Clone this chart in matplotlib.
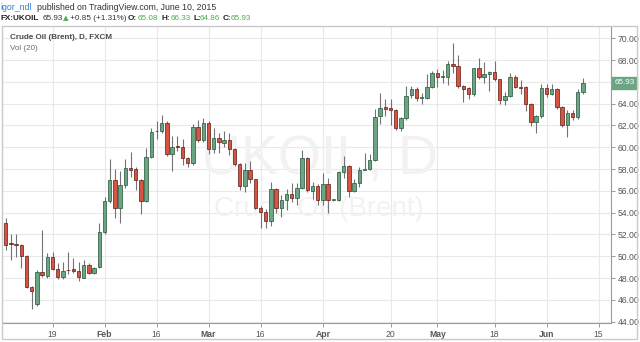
import numpy as np
import pandas as pd
import matplotlib
matplotlib.use("Agg")
import matplotlib.pyplot as plt
from matplotlib.patches import Rectangle
import matplotlib.transforms as mtransforms

plt.rcParams['font.family'] = ['Liberation Sans', 'DejaVu Sans']

# daily candles, FXCM UKOIL, Jan 6 .. Jun 10 2015
opens = [53.03, 51.20, 51.15, 51.04, 50.03, 47.16, 45.60, 48.60, 48.20, 49.90,
         48.86, 48.07, 48.74, 48.80, 48.68, 48.04, 49.17, 48.50, 48.99, 52.26,
         55.07, 56.97, 54.46, 56.51, 58.13, 57.98, 57.00, 55.10, 59.14, 61.45,
         61.52, 62.20, 59.36, 60.06, 60.00, 58.99, 58.53, 61.89, 60.67, 62.20,
         59.82, 60.83, 60.36, 60.67, 59.82, 58.47, 56.45, 57.92, 57.06, 54.43,
         54.09, 53.24, 56.15, 54.40, 55.16, 55.69, 55.32, 56.30, 59.00, 56.02,
         56.45, 55.16, 56.63, 55.16, 55.16, 57.71, 58.28, 56.02, 56.75, 57.95,
         57.98, 58.84, 62.87, 63.65, 63.63, 63.42, 61.74, 62.66, 64.77, 65.32,
         64.55, 64.55, 65.50, 66.79, 66.48, 66.48, 67.61, 67.49, 65.65, 65.41,
         64.86, 67.25, 66.48, 66.70, 66.94, 66.24, 64.34, 64.73, 66.48, 65.50,
         65.50, 63.97, 62.29, 62.87, 65.41, 64.89, 65.32, 63.67, 62.05, 63.12,
         62.75, 65.08]
highs = [53.50, 52.00, 52.00, 51.10, 50.10, 47.30, 48.70, 52.40, 50.30, 50.35,
         49.40, 49.50, 50.37, 49.80, 49.50, 49.66, 49.40, 49.00, 53.03, 55.40,
         58.90, 57.98, 57.83, 58.96, 59.60, 58.20, 57.10, 59.90, 61.74, 62.44,
         62.96, 62.40, 61.00, 61.04, 60.80, 59.10, 62.10, 62.50, 62.66, 62.40,
         61.74, 61.30, 61.50, 61.28, 59.90, 58.60, 58.60, 58.77, 57.10, 54.60,
         54.30, 56.84, 56.30, 55.60, 56.20, 56.75, 56.70, 59.75, 59.10, 56.80,
         56.60, 57.61, 57.20, 55.20, 57.80, 59.20, 58.40, 57.10, 58.20, 59.50,
         59.40, 63.49, 64.95, 64.40, 64.40, 63.50, 62.80, 65.58, 65.60, 65.50,
         65.00, 66.70, 67.00, 67.20, 67.10, 67.90, 69.60, 68.47, 65.70, 65.50,
         67.30, 68.16, 67.80, 67.00, 67.92, 66.30, 65.10, 66.85, 66.60, 66.20,
         65.60, 64.10, 63.00, 65.80, 65.80, 65.80, 65.40, 63.80, 63.40, 63.40,
         65.30, 66.33]
lows = [50.60, 49.70, 49.90, 48.90, 47.10, 45.20, 45.40, 48.10, 48.00, 48.70,
        47.90, 47.90, 48.40, 48.50, 47.70, 48.00, 48.40, 48.40, 48.90, 52.00,
        54.90, 53.50, 53.03, 56.30, 57.30, 56.08, 53.88, 55.00, 59.00, 60.73,
        61.30, 59.20, 57.83, 59.70, 58.40, 58.20, 58.40, 60.50, 60.50, 59.40,
        59.50, 59.50, 60.00, 59.30, 58.30, 56.10, 55.93, 56.70, 54.30, 52.62,
        52.62, 52.80, 53.94, 53.58, 54.20, 55.00, 54.70, 56.20, 55.90, 55.23,
        54.70, 54.70, 54.00, 55.10, 55.10, 57.20, 55.47, 55.90, 56.40, 57.90,
        57.90, 58.70, 62.10, 62.90, 62.05, 61.60, 61.50, 62.50, 64.50, 64.20,
        63.97, 64.40, 65.40, 65.56, 65.90, 65.70, 66.80, 65.40, 64.19, 64.40,
        64.70, 66.30, 65.90, 65.20, 66.10, 64.00, 63.90, 64.60, 65.40, 64.90,
        63.36, 61.98, 61.28, 62.70, 64.60, 64.80, 63.50, 61.90, 60.97, 62.50,
        62.60, 64.86]
closes = [51.04, 51.10, 51.05, 50.03, 47.16, 46.80, 48.60, 48.25, 49.90, 48.83,
          48.13, 48.68, 48.70, 48.65, 48.07, 49.17, 48.50, 48.93, 52.26, 55.07,
          56.97, 54.46, 56.51, 58.13, 57.92, 57.00, 55.10, 59.14, 61.43, 61.50,
          62.20, 59.36, 60.06, 60.04, 58.99, 58.53, 61.89, 60.67, 62.20, 59.82,
          60.83, 60.46, 60.67, 59.82, 58.47, 56.45, 57.92, 57.06, 54.43, 54.09,
          53.24, 56.15, 54.40, 55.16, 55.69, 55.32, 56.30, 58.99, 56.05, 56.45,
          55.16, 56.63, 55.16, 55.16, 57.71, 58.28, 56.02, 56.75, 57.92, 58.00,
          58.84, 62.80, 63.63, 63.55, 63.42, 61.74, 62.66, 64.74, 65.32, 64.50,
          64.58, 65.50, 66.79, 66.48, 66.50, 67.61, 67.49, 65.65, 65.35, 64.86,
          67.25, 66.48, 66.70, 66.94, 66.24, 64.34, 64.73, 66.48, 65.50, 65.48,
          63.97, 62.29, 62.87, 65.41, 64.89, 65.32, 63.67, 62.05, 63.12, 62.75,
          65.10, 65.93]

dates = pd.bdate_range("2015-01-06", "2015-06-19")
tick_dates = ["2015-01-19", "2015-02-02", "2015-02-16", "2015-03-02", "2015-03-16",
              "2015-04-01", "2015-04-20", "2015-05-01", "2015-05-18", "2015-06-01",
              "2015-06-15"]
y_ticks = np.arange(44, 71, 2)

UP, DOWN = "#6ba583", "#d75442"
UP_EDGE, DOWN_EDGE = "#225437", "#5b1a13"
WICK = "#737375"

fig = plt.figure(figsize=(6.4, 3.42), dpi=100)
ax = fig.add_axes([3 / 640, 1 - 323 / 342, 608 / 640, (323 - 26.7) / 342])

o = np.array(opens); h = np.array(highs); l = np.array(lows); c = np.array(closes)
x = np.arange(len(o))
up = c >= o
ax.vlines(x, l, h, color=WICK, lw=0.8, zorder=2)
bottoms = np.minimum(o, c)
heights = np.maximum(np.abs(c - o), 0.05)
ax.bar(x[up], heights[up], bottom=bottoms[up], width=0.66, color=UP,
       edgecolor=UP_EDGE, lw=0.5, zorder=3)
ax.bar(x[~up], heights[~up], bottom=bottoms[~up], width=0.66, color=DOWN,
       edgecolor=DOWN_EDGE, lw=0.5, zorder=3)

ax.set_xlim(-0.52, 116.4)
ax.set_ylim(43.88, 71.06)

# x ticks: day number, month name in bold on the 1st trading day
pos = [dates.get_loc(pd.Timestamp(d)) for d in tick_dates]
ax.set_xticks(pos)
labels = []
for d in tick_dates:
    ts = pd.Timestamp(d)
    labels.append(ts.strftime("%b") if ts.day <= 2 else str(ts.day))
ax.set_xticklabels(labels)
for lab, d in zip(ax.get_xticklabels(), tick_dates):
    if pd.Timestamp(d).day <= 2:
        lab.set_fontweight("bold")

# 66.00 sits under the last price tag
ax.yaxis.tick_right()
ax.set_yticks(y_ticks)
ax.set_yticklabels(["" if v == 66 else "%.2f" % v for v in y_ticks])
ax.tick_params(axis="both", labelsize=6.2, colors="#8a8a8a", labelcolor="#555555",
               length=3, width=0.6, pad=2)
ax.grid(True, color="#e9e9e9", lw=0.8, zorder=0)
ax.set_axisbelow(True)
for s in ["top", "left"]:
    ax.spines[s].set_visible(False)
for s in ["right", "bottom"]:
    ax.spines[s].set_color("#9a9a9a")
    ax.spines[s].set_linewidth(0.8)

# watermark
ax.text(0.52, 0.55, "UKOIL, D", transform=ax.transAxes, fontsize=40,
        color="#f2f2f2", ha="center", va="center", zorder=1)
ax.text(0.52, 0.385, "Crude Oil (Brent)", transform=ax.transAxes, fontsize=20,
        color="#f2f2f2", ha="center", va="center", zorder=1)

ax.text(0.011, 0.965, "Crude Oil (Brent), D, FXCM", transform=ax.transAxes,
        fontsize=5.8, fontweight="bold", color="#4a4a4a", va="center")
ax.text(0.011, 0.927, "Vol (20)", transform=ax.transAxes, fontsize=5.8,
        color="#6a6a6a", va="center")

# last price tag
tr = mtransforms.blended_transform_factory(ax.transAxes, ax.transData)
ax.text(1.006, closes[-1], "%.2f" % closes[-1], transform=tr, fontsize=5.8,
        color="white", va="center", ha="left", clip_on=False,
        bbox=dict(boxstyle="square,pad=0.3", fc=UP, ec=UP))

fig.patches.append(Rectangle((2 / 640, 1 - 339 / 342), 635 / 640, 313 / 342,
                             transform=fig.transFigure, fill=False,
                             edgecolor="#c9c9c9", lw=1))

# header lines, pieces placed at their pixel x positions
GREEN_TXT = "#4caf50"
BOLD = dict(color="#222222", fontweight="bold", fontsize=5.9)
header = [
    (0.5, 7, "igor_ndl", dict(color="#2f7fd0", fontsize=6.3)),
    (37, 7, "published on TradingView.com, June 10, 2015",
     dict(color="#333333", fontsize=6.3)),
    (0.5, 18.5, "FX:UKOIL", BOLD),
    (42.5, 18.5, "65.93", dict(color="#333333")),
    (63, 18.5, "\u25B2", dict(color=GREEN_TXT, family="DejaVu Sans", fontsize=5.3)),
    (69.5, 18.5, "+0.85 (+1.31%)", dict(color="#333333")),
    (128, 18.5, "O:", BOLD), (138, 18.5, "65.08", dict(color=GREEN_TXT)),
    (162, 18.5, "H:", BOLD), (171, 18.5, "66.33", dict(color=GREEN_TXT)),
    (193, 18.5, "L:", BOLD), (200, 18.5, "64.86", dict(color=GREEN_TXT)),
    (223, 18.5, "C:", BOLD), (231, 18.5, "65.93", dict(color=GREEN_TXT)),
]
for px, py, txt, kw in header:
    kw = dict(kw)
    kw.setdefault("fontsize", 5.9)
    fig.text(px / 640, 1 - py / 342, txt, va="center", ha="left", **kw)

fig.savefig("out.png", dpi=100)
